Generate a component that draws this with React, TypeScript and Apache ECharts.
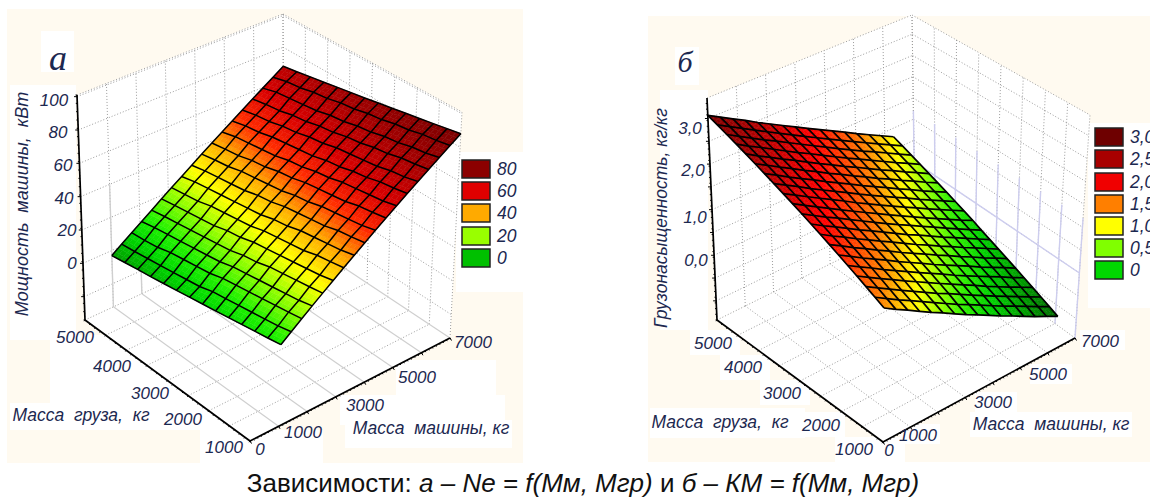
import React, { useEffect, useRef } from "react";
import * as echarts from "echarts";

// ---------- data ----------
const massMachineA = [1000,1353,1706,2059,2412,2765,3118,3471,3824,4176,4529,4882,5235,5588,5941,6294,6647,7000];
const massCargoA = [5000,4692,4385,4077,3769,3462,3154,2846,2538,2231,1923,1615,1308,1000];
const powerA = [
  [-3,1.2,5.4,9.5,13.7,17.9,22.1,26.2,30.4,34.6,38.8,42.9,47.1,51.3,55.5,59.6,63.8,68],
  [-1.9,2,6,11,15,19,23,28,32,36,40,45,49,53,57,62,66,69.5],
  [-0.8,3,7,12,16,20,24,29,33,37,41,46,50,54,58,63,67,71.1],
  [0.2,4,9,13,17,21,26,30,34,39,43,47,52,56,60,64,69,72.6],
  [1.3,5,10,14,18,22,27,31,35,40,44,48,53,57,61,65,70,74.2],
  [2.4,6,11,15,19,24,28,32,37,41,46,50,54,59,63,67,72,75.7],
  [3.5,7,12,16,20,25,29,33,38,42,47,51,55,60,64,68,73,77.2],
  [4.6,9,14,18,22,27,31,35,40,44,49,53,57,62,66,70,75,78.8],
  [5.6,10,15,19,23,28,32,36,41,45,50,54,58,63,67,71,76,80.3],
  [6.7,11,16,20,25,29,33,38,42,47,51,56,60,64,69,73,78,81.9],
  [7.8,12,17,21,26,30,34,39,43,48,52,57,61,65,70,74,79,83.4],
  [8.9,13,18,22,27,31,36,40,45,49,54,58,63,67,72,76,81,84.9],
  [9.9,14,19,23,28,32,37,41,46,50,55,59,64,68,73,77,82,86.5],
  [11,15.5,20.1,24.6,29.1,33.6,38.2,42.7,47.2,51.8,56.3,60.8,65.4,69.9,74.4,78.9,83.5,88],
];
const massMachineB = [0,420,840,1260,1680,2100,2520,2940,3360,3780,4200,4620,5040,5460,5880,6300];
const massCargoB = [5000,4789,4579,4368,4158,3947,3737,3526,3316,3105,2895,2684,2474,2263,2053,1842,1632,1421,1211,1000];
const loadB = [
  [3.07,2.92,2.77,2.62,2.46,2.31,2.16,2.01,1.86,1.71,1.56,1.41,1.25,1.10,0.95,0.80],
  [2.97,2.82,2.67,2.52,2.37,2.22,2.07,1.92,1.77,1.62,1.47,1.32,1.17,1.02,0.87,0.72],
  [2.87,2.72,2.57,2.42,2.28,2.13,1.98,1.83,1.68,1.53,1.38,1.23,1.09,0.94,0.79,0.64],
  [2.77,2.62,2.48,2.33,2.18,2.03,1.89,1.74,1.59,1.44,1.30,1.15,1.00,0.85,0.71,0.56],
  [2.67,2.52,2.38,2.23,2.09,1.94,1.79,1.65,1.50,1.36,1.21,1.06,0.92,0.77,0.63,0.48],
  [2.57,2.43,2.28,2.14,1.99,1.85,1.70,1.56,1.41,1.27,1.12,0.98,0.83,0.69,0.54,0.40],
  [2.47,2.33,2.18,2.04,1.90,1.75,1.61,1.47,1.32,1.18,1.04,0.89,0.75,0.60,0.46,0.32],
  [2.37,2.23,2.09,1.94,1.80,1.66,1.52,1.37,1.23,1.09,0.95,0.81,0.66,0.52,0.38,0.24],
  [2.27,2.13,1.99,1.85,1.71,1.57,1.42,1.28,1.14,1.00,0.86,0.72,0.58,0.44,0.30,0.16],
  [2.17,2.03,1.89,1.75,1.61,1.47,1.33,1.19,1.05,0.91,0.77,0.63,0.49,0.35,0.21,0.08],
  [2.07,1.93,1.79,1.66,1.52,1.38,1.24,1.10,0.96,0.83,0.69,0.55,0.41,0.27,0.13,-0.01],
  [1.97,1.83,1.70,1.56,1.42,1.29,1.15,1.01,0.87,0.74,0.60,0.46,0.33,0.19,0.05,-0.09],
  [1.87,1.73,1.60,1.46,1.33,1.19,1.06,0.92,0.78,0.65,0.51,0.38,0.24,0.11,-0.03,-0.17],
  [1.77,1.64,1.50,1.37,1.23,1.10,0.96,0.83,0.70,0.56,0.43,0.29,0.16,0.02,-0.11,-0.25],
  [1.67,1.54,1.40,1.27,1.14,1.00,0.87,0.74,0.60,0.47,0.34,0.21,0.07,-0.06,-0.19,-0.33],
  [1.57,1.44,1.31,1.17,1.04,0.91,0.78,0.65,0.52,0.38,0.25,0.12,-0.01,-0.14,-0.28,-0.41],
  [1.47,1.34,1.21,1.08,0.95,0.82,0.69,0.56,0.43,0.30,0.17,0.03,-0.10,-0.23,-0.36,-0.49],
  [1.37,1.24,1.11,0.98,0.85,0.72,0.59,0.47,0.34,0.21,0.08,-0.05,-0.18,-0.31,-0.44,-0.57],
  [1.27,1.14,1.01,0.89,0.76,0.63,0.50,0.37,0.25,0.12,-0.01,-0.14,-0.26,-0.39,-0.52,-0.65],
  [1.17,1.04,0.92,0.79,0.66,0.54,0.41,0.28,0.16,0.03,-0.10,-0.22,-0.35,-0.48,-0.60,-0.73],
];
const machineTicks = [0,1000,2000,3000,4000,5000,6000,7000];
const cargoTicks = [1000,1500,2000,2500,3000,3500,4000,4500,5000];
const zTicksA = [-20,0,20,40,60,80,100];
const zTicksB = [-1,-0.5,0,0.5,1,1.5,2,2.5,3];
const legendLabelsA = ["80","60","40","20","0"];
const legendColorsA = ["#8B0000","#E00000","#FFAA00","#99FF00","#00C000"];
const legendLabelsB = ["3,0","2,5","2,0","1,5","1,0","0,5","0"];
const legendColorsB = ["#6E0000","#A80000","#F00000","#FF7F00","#FFFF00","#80FF00","#00D800"];
const rampA: [number,string][] = [[-5,"#008C00"],[5,"#00D800"],[12,"#20F000"],[22,"#A0FF00"],[30,"#FFFF00"],[40,"#FFAA00"],[50,"#FF2A00"],[60,"#D80000"],[75,"#A00000"],[88,"#7A0000"]];
const rampB: [number,string][] = [[-0.73,"#006A00"],[0,"#00D000"],[0.3,"#30F000"],[0.5,"#80FF00"],[0.8,"#FFFF00"],[1.2,"#FF8000"],[1.8,"#FF0000"],[2.5,"#B00000"],[3.1,"#7A0000"]];

// ---------- layout ----------
const CAPTION = "{n|Зависимости: }{i|а – Ne = f(Мм, Мгр) }{n|и }{i|б – КМ = f(Мм, Мгр)}";
const TEXT = "#1c2850";
const FONT = "Liberation Sans";
type Pt = [number, number];
interface Panel {
  F: Pt; R: Pt; L: Pt; B: Pt; FT: Pt; RT: Pt; LT: Pt; BT: Pt;
  zRange: [number, number];
  machine: number[]; cargo: number[]; values: number[][];
  zTicks: number[]; ramp: [number,string][];
  solidFloor: boolean; meshWidth: number;
}
const panelA: Panel = {
  F:[250,441], R:[450,338], L:[85,320], B:[284,228], FT:[256,193], RT:[462,112], LT:[77,95], BT:[283,14],
  zRange:[-34,101], machine:massMachineA, cargo:massCargoA, values:powerA, zTicks:zTicksA, ramp:rampA, solidFloor:true, meshWidth:1.5,
};
const panelB: Panel = {
  F:[883,442], R:[1075,338], L:[717,320], B:[915,222], FT:[885,190], RT:[1090,115], LT:[707,98], BT:[912,15],
  zRange:[-1.42,3.45], machine:massMachineB, cargo:massCargoB, values:loadB, zTicks:zTicksB, ramp:rampB, solidFloor:false, meshWidth:1.7,
};
const CREAM = "#FFFAF0";
const whitePatchesA = [[10,85,66,255],[41,31,33,41],[50,335,200,95],[10,403,180,27],[200,430,60,33],[250,430,73,33],[345,420,167,28],[340,395,165,30],[396,360,100,35],[456,152,67,140]];
const whitePatchesB = [[660,90,48,240],[675,47,24,38],[690,330,50,25],[720,355,50,25],[760,380,50,25],[800,412,45,25],[835,437,70,25],[650,408,155,30],[970,412,162,25],[900,424,40,20],[975,392,42,20],[1030,364,42,20],[1080,330,45,20],[1088,123,62,185]];
// [text, centre x, centre y]
const labelsA: [string,number,number][] = [
  ["100",54,100],["80",58,132],["60",63,165],["40",64,198],["20",67,230],["0",72,263],
  ["5000",75,337],["4000",112,366],["3000",150,393],["2000",183,419],["1000",224,447],["0",260,449],
  ["1000",303,432],["3000",365,405],["5000",417,377],["7000",473,342],
];
const labelsB: [string,number,number][] = [
  ["3,0",690,128],["2,0",693,170],["1,0",695,217],["0,0",696,260],
  ["5000",713,343],["4000",743,367],["3000",782,393],["2000",821,425],["1000",854,449],["0",889,450],
  ["1000",918,435],["3000",993,402],["5000",1048,374],["7000",1100,341],
];

// ---------- projection through the panel's box ----------
const lerp = (a: Pt, b: Pt, t: number): Pt => [a[0]+(b[0]-a[0])*t, a[1]+(b[1]-a[1])*t];
function project(p: Panel, m: number, c: number, z: number): Pt {
  const u = echarts.number.linearMap(m, [0,7000], [0,1]);
  const v = echarts.number.linearMap(c, [1000,5000], [0,1]);
  const w = echarts.number.linearMap(z, p.zRange, [0,1]);
  const floor = lerp(lerp(p.F,p.R,u), lerp(p.L,p.B,u), v);
  const top = lerp(lerp(p.FT,p.RT,u), lerp(p.LT,p.BT,u), v);
  return lerp(floor, top, w);
}
function hexRgb(h: string) { return [1,3,5].map((i)=>parseInt(h.slice(i,i+2),16)); }
function colorOf(ramp: [number,string][], v: number) {
  if (v <= ramp[0][0]) return ramp[0][1];
  for (let i = 1; i < ramp.length; i++) {
    if (v <= ramp[i][0]) {
      const t = (v-ramp[i-1][0])/(ramp[i][0]-ramp[i-1][0]);
      const a = hexRgb(ramp[i-1][1]), b = hexRgb(ramp[i][1]);
      return `rgb(${a.map((x,k)=>Math.round(x+(b[k]-x)*t)).join(",")})`;
    }
  }
  return ramp[ramp.length-1][1];
}

// ---------- series ----------
type Seg = [number,number,number,number,number,number];
function segSeries(p: Panel, segs: Seg[], style: any) {
  return {
    type:"custom", coordinateSystem:"none", silent:true, z:2, data:segs,
    renderItem:(_: any, api: any) => {
      const a = project(p, api.value(0), api.value(1), api.value(2));
      const b = project(p, api.value(3), api.value(4), api.value(5));
      return { type:"line", shape:{x1:a[0],y1:a[1],x2:b[0],y2:b[1]}, style:{fill:"none",...style} };
    },
  };
}
function tickSeries(p: Panel, ticks: number[][], len: number) {
  return {
    type:"custom", coordinateSystem:"none", silent:true, z:5, data:ticks,
    renderItem:(_: any, api: any) => {
      const a = project(p, api.value(0), api.value(1), api.value(2));
      return { type:"line", shape:{x1:a[0],y1:a[1],x2:a[0]+api.value(3)*len,y2:a[1]+api.value(4)*len}, style:{stroke:"#000",lineWidth:1} };
    },
  };
}
function surfaceSeries(p: Panel) {
  const cells: number[][] = [];
  for (let j=0;j<p.cargo.length-1;j++) for (let i=0;i<p.machine.length-1;i++) cells.push([i,j]);
  const N = 3;
  return {
    type:"custom", coordinateSystem:"none", silent:true, z:3, data:cells,
    renderItem:(_: any, api: any) => {
      const i = api.value(0), j = api.value(1);
      const node = (a: number, b: number) => project(p, p.machine[a], p.cargo[b], p.values[b][a]);
      const n00=node(i,j), n10=node(i+1,j), n01=node(i,j+1), n11=node(i+1,j+1);
      const v00=p.values[j][i], v10=p.values[j][i+1], v01=p.values[j+1][i], v11=p.values[j+1][i+1];
      const at = (s: number, t: number) => lerp(lerp(n00,n10,s), lerp(n01,n11,s), t);
      const children: any[] = [];
      for (let a=0;a<N;a++) for (let b=0;b<N;b++) {
        const s0=a/N,s1=(a+1)/N,t0=b/N,t1=(b+1)/N,sm=(s0+s1)/2,tm=(t0+t1)/2;
        const val=(v00+(v10-v00)*sm)*(1-tm)+(v01+(v11-v01)*sm)*tm;
        const col=colorOf(p.ramp,val);
        children.push({type:"polygon",shape:{points:[at(s0,t0),at(s1,t0),at(s1,t1),at(s0,t1)]},style:{fill:col,stroke:col,lineWidth:0.5}});
      }
      return {type:"group",children};
    },
  };
}
function meshSeries(p: Panel) {
  const lines: number[][] = [];
  p.cargo.forEach((_,j)=>lines.push([0,j]));
  p.machine.forEach((_,i)=>lines.push([1,i]));
  return {
    type:"custom", coordinateSystem:"none", silent:true, z:4, data:lines,
    renderItem:(_: any, api: any) => {
      const kind=api.value(0), k=api.value(1);
      const pts: Pt[] = kind===0
        ? p.machine.map((m,i)=>project(p,m,p.cargo[k],p.values[k][i]))
        : p.cargo.map((c,j)=>project(p,p.machine[k],c,p.values[j][k]));
      return {type:"polyline",shape:{points:pts},style:{fill:"none",stroke:"#000",lineWidth:p.meshWidth,lineJoin:"round"}};
    },
  };
}
function panelSeries(p: Panel) {
  const zMin=p.zRange[0], zMax=p.zRange[1];
  const dotted: Seg[] = [];
  const floorSolid: Seg[] = [];
  machineTicks.forEach((m)=>{
    dotted.push([m,5000,zMin,m,5000,zMax]);
    (p.solidFloor?floorSolid:dotted).push([m,1000,zMin,m,5000,zMin]);
  });
  cargoTicks.forEach((c)=>{
    dotted.push([7000,c,zMin,7000,c,zMax]);
    dotted.push([0,c,zMin,7000,c,zMin]);
  });
  [...p.zTicks,zMax].forEach((z)=>{
    dotted.push([0,5000,z,7000,5000,z]);
    dotted.push([7000,5000,z,7000,1000,z]);
  });
  const axes: Seg[] = [[0,5000,zMin,0,5000,zMax],[0,5000,zMin,0,1000,zMin],[0,1000,zMin,7000,1000,zMin]];
  const zStep=(p.zTicks[1]-p.zTicks[0]);
  const ticks: number[][] = [];
  const minor: number[][] = [];
  for (let k=0;k<=32;k++){ const c=1000+k*125; minor.push([0,c,zMin,-0.55,0.8]); }
  for (let k=0;k<=56;k++){ const m=k*125; minor.push([m,1000,zMin,0.5,0.85]); }
  const zN=Math.floor((zMax-zMin)/(zStep/4));
  for (let k=0;k<=zN;k++){ minor.push([0,5000,zMin+k*zStep/4,-1,0]); }
  p.zTicks.forEach((z)=>ticks.push([0,5000,z,-1,0]));
  machineTicks.forEach((m)=>ticks.push([m,1000,zMin,0.5,0.85]));
  const out: any[] = [
    segSeries(p,dotted,{stroke:"#9c9c9c",lineWidth:1,lineDash:[1,2]}),
  ];
  if (p.solidFloor) {
    out.push(segSeries(p,floorSolid,{stroke:"#cfcfcf",lineWidth:1.2}));
    out.push(segSeries(p,[[1000,5000,zMin,1000,5000,40],[2000,5000,zMin,2000,5000,0]],{stroke:"#cfcfcf",lineWidth:1.4}));
  } else {
    const lav: Seg[] = cargoTicks.map((c)=>[7000,c,zMin,7000,c,1.2] as Seg);
    lav.push([7000,5000,0,7000,1000,0]);
    out.push(segSeries(p,lav,{stroke:"#cdcdee",lineWidth:1.4}));
  }
  out.push(surfaceSeries(p), meshSeries(p));
  out.push({...segSeries(p,axes,{stroke:"#000",lineWidth:1.7}),z:5});
  out.push(tickSeries(p,minor,1.5), tickSeries(p,ticks,3));
  return out;
}

// ---------- decoration (backgrounds, texts, legends) ----------
const rect = (x:number,y:number,w:number,h:number,fill:string,z=0)=>({type:"rect",z,silent:true,shape:{x,y,width:w,height:h},style:{fill}});
const text = (s:string,x:number,y:number,size:number,extra:any={})=>({
  type:"text",z:10,silent:true,x,y,rotation:extra.rotation||0,
  style:{text:s,fill:extra.fill||TEXT,fontSize:size,fontStyle:extra.fontStyle||"italic",fontFamily:extra.fontFamily||FONT,align:extra.align||"center",verticalAlign:"middle"},
});
function wallPolys(p: Panel) {
  const poly=(pts:Pt[])=>({type:"polygon",z:1,silent:true,shape:{points:pts},style:{fill:"#fff"}});
  return [poly([p.L,p.B,p.BT,p.LT]),poly([p.B,p.R,p.RT,p.BT]),poly([p.F,p.R,p.B,p.L])];
}
function legend(labels:string[],colors:string[],x:number,tops:number[],h:number,lx:number,size:number){
  const out:any[]=[];
  labels.forEach((l,i)=>{
    out.push({type:"rect",z:10,silent:true,shape:{x,y:tops[i],width:28,height:h},style:{fill:colors[i],stroke:"#222",lineWidth:1.5}});
    out.push(text(l,lx,tops[i]+h/2,size,{align:"left"}));
  });
  return out;
}
function buildGraphic(){
  const g:any[]=[rect(7,9,516,454,CREAM),rect(648,16,502,446,CREAM)];
  [...whitePatchesA,...whitePatchesB].forEach((r)=>g.push(rect(r[0],r[1],r[2],r[3],"#fff")));
  g.push(...wallPolys(panelA),...wallPolys(panelB));
  labelsA.forEach(([s,x,y])=>g.push(text(s,x,y,17)));
  labelsB.forEach(([s,x,y])=>g.push(text(s,x,y,17)));
  g.push(text("а",58,58,36,{fontFamily:"Liberation Serif"}));
  g.push(text("б",685,61,30,{fontFamily:"Liberation Serif"}));
  g.push(text("Мощность  машины,  кВт",22,204,18,{rotation:Math.PI/2}));
  g.push(text("Масса  груза,  кг",81,415,17.5));
  g.push(text("Масса  машины, кг",431,428,17.5));
  g.push(text("Грузонасыщенность, кг/кг",661,218,17.5,{rotation:Math.PI/2}));
  g.push(text("Масса  груза,  кг",720,422,17.5));
  g.push(text("Масса  машины, кг",1051,424,17.5));
  g.push(...legend(legendLabelsA,legendColorsA,462,[160,182,204,227,249],18,497,17.5));
  g.push(...legend(legendLabelsB,legendColorsB,1095,[128,150,173,195,217,239,261],18,1130,17.5));
  g.push({
    type:"text",z:10,silent:true,x:583,y:483,
    style:{text:CAPTION,align:"center",verticalAlign:"middle",fill:"#111",
      rich:{n:{fontFamily:FONT,fontSize:26,fill:"#111"},i:{fontFamily:FONT,fontSize:26,fontStyle:"italic",fill:"#111"}}},
  });
  return g;
}

export default function App(){
  const ref=useRef<HTMLDivElement>(null);
  useEffect(()=>{
    const chart=echarts.init(ref.current!,undefined,{renderer:"svg"});
    chart.setOption({
      animation:false,
      backgroundColor:"#fff",
      graphic:buildGraphic(),
      series:[...panelSeries(panelA),...panelSeries(panelB)],
    });
    return ()=>chart.dispose();
  },[]);
  return <div ref={ref} style={{position:"absolute",left:0,top:0,width:1150,height:500}}/>;
}
